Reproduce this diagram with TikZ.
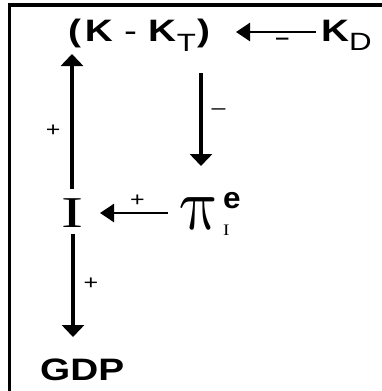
\documentclass[tikz,border=0pt]{standalone}
\usepackage{fontspec}
\setmainfont{Liberation Sans}
\newfontfamily\serifft{Liberation Serif}
\usetikzlibrary{arrows.meta}
\newcommand{\wide}[1]{\scalebox{1.25}[1]{#1}}
\begin{document}
\begin{tikzpicture}[x=1pt,y=-1pt,
  varr/.style={line width=3.1pt,-{Triangle[width=22pt,length=12pt]}},
  harr/.style={line width=2.6pt,-{Triangle[width=18pt,length=14pt]}},
  big/.style={font=\fontsize{31}{36}\selectfont\bfseries, inner sep=0pt, anchor=base west},
  sgn/.style={font=\fontsize{20}{22}\selectfont, inner sep=0pt}]
\useasboundingbox (0,0) rectangle (382,391);
\draw[line width=3.2pt] (9.5,391) -- (9.5,5) -- (382,5);
\draw[line width=2.6pt] (8,5) -- (382,5);
% text nodes
\node[big] (kkt) at (68,41) {\wide{(\hspace{3pt}K\hspace{9pt}{\mdseries -}\hspace{9pt}K\hspace{0.5pt}\raisebox{-10pt}{\fontsize{25}{28}\selectfont\mdseries T}\hspace{1pt})}};
\node[big] (kd) at (321,41) {\wide{K\raisebox{-9pt}{\fontsize{25}{28}\selectfont\mdseries D}}};
\node[inner sep=0pt, anchor=base west] (inv) at (61,227) {\serifft\fontsize{44}{48}\selectfont\scalebox{1.5}[1]{I}};
\node[inner sep=0pt, anchor=base west, xslant=-0.2, transform shape] (pie) at (183,229) {\scalebox{6.6}[7.4]{$\pi$}};
\node[inner sep=0pt, anchor=base west, font=\fontsize{30}{34}\selectfont\bfseries] (pisup) at (223,208) {\scalebox{1.05}[1]{e}};
\node[inner sep=0pt, anchor=base west, font=\serifft\fontsize{16}{18}\selectfont] (pisub) at (223,235) {\scalebox{1.2}[1]{I}};
\node[big] (gdp) at (40,380) {\wide{GDP}};
% arrow end points
\coordinate (kdL) at (316,32);
\coordinate (kktR) at (236,32);
\coordinate (kktB) at (201,73);
\coordinate (pieT) at (201,166);
\coordinate (pieL) at (168,213);
\coordinate (invR) at (100,213);
\coordinate (invT) at (72,189);
\coordinate (kktL) at (72,54);
\coordinate (invB) at (73,234);
\coordinate (gdpT) at (73,337);
% connectors
\draw[harr] (kdL) -- (kktR) node[sgn, pos=0.42, below=5pt, font=\fontsize{20}{22}\selectfont\bfseries] {\wide{--}};
\draw[varr] (kktB) -- (pieT) node[sgn, pos=0.42, right=9pt] {\wide{--}};
\draw[harr] (pieL) -- (invR) node[sgn, pos=0.45, above=5pt] {\wide{+}};
\draw[varr] (invT) -- (kktL) node[sgn, pos=0.43, left=10pt] {\wide{+}};
\draw[varr] (invB) -- (gdpT) node[sgn, pos=0.48, right=9pt] {\wide{+}};
\end{tikzpicture}
\end{document}
